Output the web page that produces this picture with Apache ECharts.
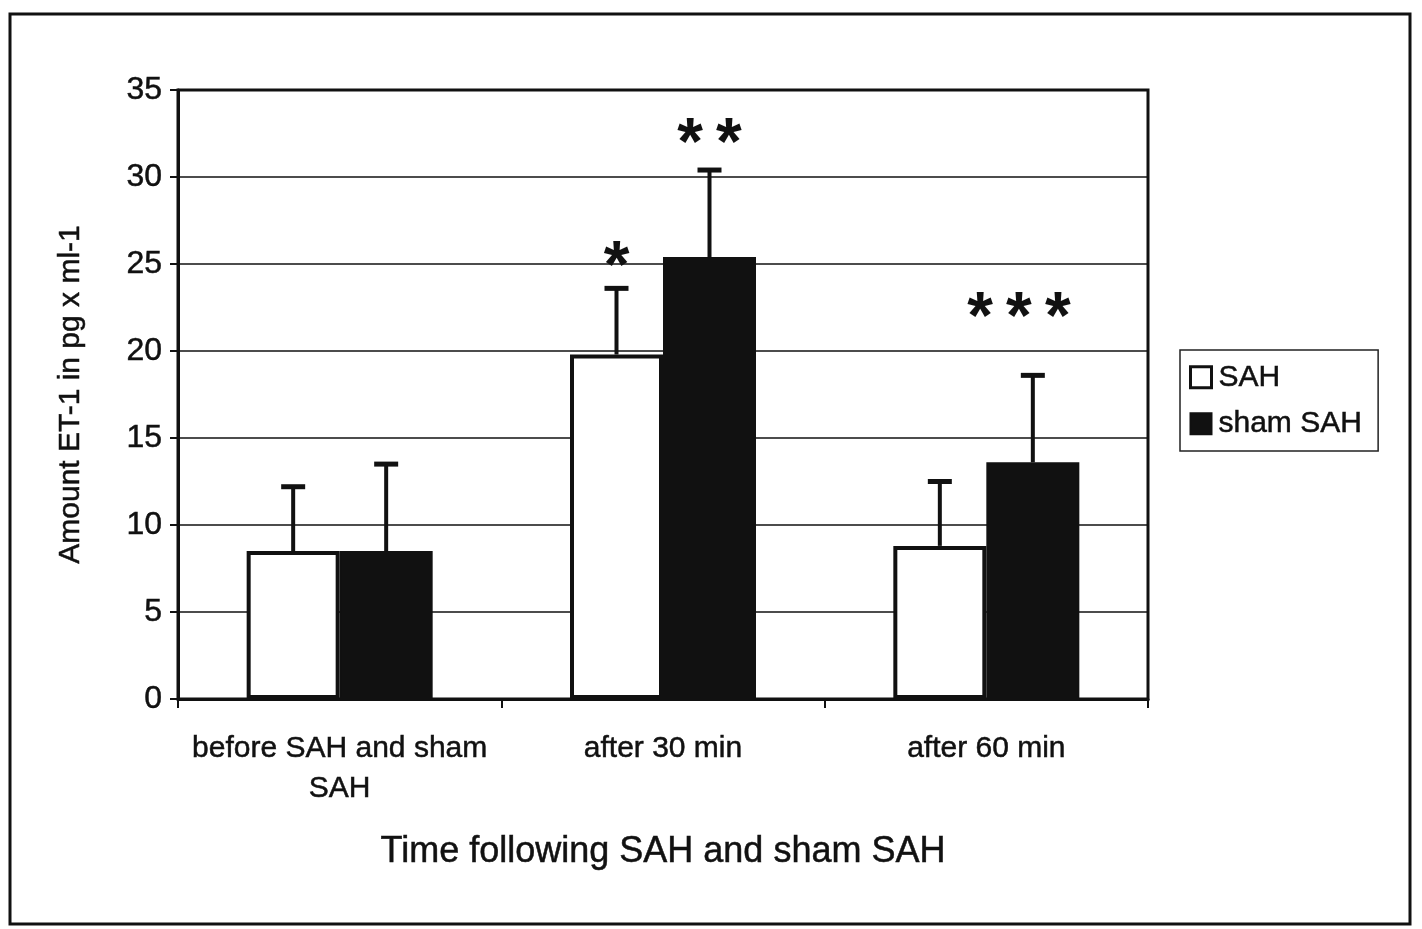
<!DOCTYPE html>
<html>
<head>
<meta charset="utf-8">
<script src="https://cdn.jsdelivr.net/npm/echarts@6/dist/echarts.min.js"></script>
<style>
  html, body { margin: 0; padding: 0; background: #fff; }
  #chart { width: 1422px; height: 929px; }
</style>
</head>
<body>
<div id="chart"></div>
<script>
const categories = ["before SAH and sham\nSAH", "after 30 min", "after 60 min"];
const sahValues = [8.5, 19.8, 8.8];
const sahErrors = [3.7, 3.8, 3.7];
const shamValues = [8.5, 25.4, 13.6];
const shamErrors = [5.0, 5.0, 5.0];
// significance marks: category index, position across the bar pair (0 = SAH, 1 = sham), height
const starText = ["*", "*\u2009*", "*\u2009*\u2009*"];
const starCat = [1, 1, 2];
const starBar = [0, 1, 0.85];
const starY = [25.0, 32.1, 22.1];

const barW = 93;
const ink = "#111";
const thick = { textBorderColor: ink, textBorderWidth: 0.5 };

const chart = echarts.init(document.getElementById("chart"));

const errorData = [];
sahValues.forEach((v, i) => errorData.push([i, v, v + sahErrors[i], 0]));
shamValues.forEach((v, i) => errorData.push([i, v, v + shamErrors[i], 1]));

const starData = starText.map((t, i) => [starCat[i], starY[i], starBar[i]]);

const option = {
  animation: false,
  textStyle: { fontFamily: "Liberation Sans, Arial, sans-serif", color: ink },
  graphic: [
    {
      type: "rect",
      shape: { x: 10, y: 14, width: 1400, height: 910 },
      style: { fill: "none", stroke: ink, lineWidth: 3 },
      silent: true,
    },
  ],
  grid: {
    left: 178,
    top: 90,
    right: 274,
    bottom: 230,
    show: true,
    borderColor: ink,
    borderWidth: 3,
  },
  legend: {
    orient: "vertical",
    left: 1180,
    top: 350,
    data: [
      { name: "SAH", itemStyle: { color: "#fff", borderColor: ink, borderWidth: 3 } },
      { name: "sham SAH", itemStyle: { color: ink } },
    ],
    itemWidth: 21,
    itemHeight: 21,
    itemGap: 16,
    icon: "rect",
    borderColor: "#222",
    borderWidth: 1.5,
    padding: [12, 16, 12, 9],
    textStyle: Object.assign({ fontSize: 30, color: ink, padding: [0, 0, 0, 2] }, thick),
  },
  xAxis: {
    type: "category",
    data: categories,
    name: "Time following SAH and sham SAH",
    nameLocation: "middle",
    nameGap: 135,
    nameTextStyle: Object.assign({ fontSize: 36, color: ink }, thick),
    axisLine: { lineStyle: { color: ink, width: 3 } },
    axisTick: { show: true, interval: 0, length: 9, lineStyle: { color: ink, width: 2 } },
    axisLabel: Object.assign({ interval: 0, fontSize: 30, color: ink, margin: 30, lineHeight: 40 }, thick),
  },
  yAxis: {
    type: "value",
    min: 0,
    max: 35,
    interval: 5,
    name: "Amount ET-1 in pg x ml-1",
    nameLocation: "middle",
    nameGap: 92,
    nameTextStyle: Object.assign({ fontSize: 30, color: ink }, thick),
    axisLine: { show: true, lineStyle: { color: ink, width: 3 } },
    axisTick: { show: true, length: 8, lineStyle: { color: ink, width: 2 } },
    axisLabel: Object.assign({ fontSize: 32, color: ink, margin: 16 }, thick),
    splitLine: { show: true, lineStyle: { color: ink, width: 1.5 } },
  },
  series: [
    {
      name: "SAH",
      type: "bar",
      data: sahValues,
      barWidth: barW,
      barGap: "0%",
      itemStyle: { color: "#fff", borderColor: ink, borderWidth: 4 },
      z: 3,
    },
    {
      name: "sham SAH",
      type: "bar",
      data: shamValues,
      barWidth: barW,
      barGap: "0%",
      itemStyle: { color: ink, borderColor: ink, borderWidth: 2 },
      z: 3,
    },
    {
      name: "errors",
      type: "custom",
      data: errorData,
      z: 4,
      renderItem: (params, api) => {
        const off = api.value(3) === 0 ? -barW / 2 : barW / 2;
        const base = api.coord([api.value(0), api.value(1)]);
        const top = api.coord([api.value(0), api.value(2)]);
        const x = base[0] + off;
        return {
          type: "group",
          children: [
            { type: "line", shape: { x1: x, y1: base[1], x2: x, y2: top[1] }, style: { stroke: ink, lineWidth: 4 } },
            { type: "line", shape: { x1: x - 12, y1: top[1], x2: x + 12, y2: top[1] }, style: { stroke: ink, lineWidth: 5 } },
          ],
        };
      },
    },
    {
      name: "stars",
      type: "custom",
      data: starData,
      z: 5,
      renderItem: (params, api) => {
        const p = api.coord([api.value(0), api.value(1)]);
        const off = (api.value(2) - 0.5) * barW;
        return {
          type: "text",
          x: p[0] + off,
          y: p[1] + 5,
          style: {
            text: starText[params.dataIndex],
            fill: ink,
            font: "bold 66px Liberation Sans, Arial, sans-serif",
            align: "center",
            verticalAlign: "middle",
          },
        };
      },
    },
  ],
};

chart.setOption(option);
</script>
</body>
</html>
